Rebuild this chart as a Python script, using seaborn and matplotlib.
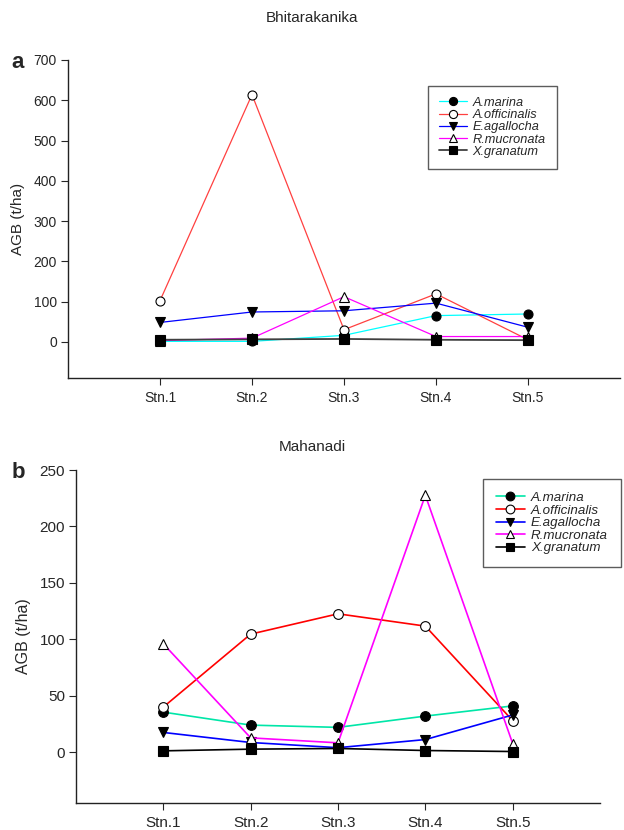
import numpy as np
import pandas as pd
import matplotlib
matplotlib.use("Agg")
import matplotlib.pyplot as plt
import seaborn as sns

stations = ["Stn.1", "Stn.2", "Stn.3", "Stn.4", "Stn.5"]
species = ["A.marina", "A.officinalis", "E.agallocha", "R.mucronata", "X.granatum"]

# Bhitarakanika
bh_amarina = [1, 1, 16, 65, 69]
bh_aoffic = [102, 614, 30, 119, 5]
bh_eagall = [48, 74, 77, 96, 36]
bh_rmucro = [3, 9, 112, 13, 13]
bh_xgran = [5, 6, 7, 5, 4]

# Mahanadi
mh_amarina = [35.5, 24, 22, 32, 41]
mh_aoffic = [40, 104.6, 122.6, 111.7, 28]
mh_eagall = [17.5, 8.6, 4, 11.2, 33]
mh_rmucro = [96, 12.7, 8.3, 227.6, 7.7]
mh_xgran = [1.2, 2.7, 3.3, 1.5, 0.6]

sns.set_style("ticks")
plt.rcParams['font.family'] = ['Liberation Sans', 'DejaVu Sans']

markers = ['o', 'o', 'v', '^', 's']
faces = ['black', 'white', 'black', 'white', 'black']
colors_a = ['#00FFFF', '#FF4040', '#0000FF', '#FF00FF', '#404040']
colors_b = ['#00E6A8', '#FF0000', '#0000FF', '#FF00FF', '#000000']
lws_a = [0.9, 0.9, 0.9, 0.9, 1.3]
lws_b = [1.2, 1.2, 1.2, 1.2, 1.2]

fig = plt.figure(figsize=(6.24, 8.30), dpi=100)
ax_a = fig.add_axes([68/624, 1-378/830, (620-68)/624, (378-60)/830])
ax_b = fig.add_axes([76/624, 1-803/830, (600-76)/624, (803-470)/830])

def draw(ax, series, colors, lws, ylim, yticks, ms, tick_fs, lab_fs, xpad,
         leg_box, leg_fs, hl, bp):
    x = np.arange(1, 6)
    for name, vals, m, fc, c, lw in zip(species, series, markers, faces, colors, lws):
        df = pd.DataFrame({"x": x, "y": vals})
        sns.lineplot(data=df, x="x", y="y", ax=ax, color=c, lw=lw,
                     marker=m, markersize=ms, markerfacecolor=fc,
                     markeredgecolor='black', markeredgewidth=0.8,
                     label=name, legend=False)
    ax.set_xlim(0, 6)
    ax.set_ylim(*ylim)
    ax.set_xticks(x)
    ax.set_xticklabels(stations, fontsize=tick_fs)
    ax.set_yticks(yticks)
    ax.tick_params(axis='y', labelsize=tick_fs, length=5, width=0.8, pad=3)
    ax.tick_params(axis='x', length=5, width=0.8, pad=xpad)
    ax.set_xlabel("")
    ax.set_ylabel("AGB (t/ha)", fontsize=lab_fs, labelpad=6)
    for s in ['top', 'right']:
        ax.spines[s].set_visible(False)
    for s in ['left', 'bottom']:
        ax.spines[s].set_linewidth(1.0)
        ax.spines[s].set_color('#222222')
    handles = list(ax.get_lines())[:5]
    leg = ax.legend(handles=handles, labels=species, loc='upper left',
                    bbox_to_anchor=leg_box,
                    bbox_transform=fig.transFigure, borderaxespad=0,
                    frameon=True, fancybox=False, markerscale=0.9,
                    handlelength=hl, handletextpad=0.45, labelspacing=0.02,
                    borderpad=bp, prop={'style': 'italic', 'size': leg_fs})
    leg.get_frame().set_edgecolor('#333333')
    leg.get_frame().set_linewidth(1.0)

draw(ax_a, [bh_amarina, bh_aoffic, bh_eagall, bh_rmucro, bh_xgran], colors_a, lws_a,
     (-90, 700), [0, 100, 200, 300, 400, 500, 600, 700], 6.5, 10, 11, 4,
     (428/624, 1-86/830), 9.2, 2.2, 0.85)
draw(ax_b, [mh_amarina, mh_aoffic, mh_eagall, mh_rmucro, mh_xgran], colors_b, lws_b,
     (-45, 250), [0, 50, 100, 150, 200, 250], 7, 11, 11.5, 4,
     (483/624, 1-479/830), 9.6, 2.2, 0.95)

fig.text(312/624, 1-18/830, "Bhitarakanika", ha='center', va='center', fontsize=11)
fig.text(312/624, 1-447/830, "Mahanadi", ha='center', va='center', fontsize=11)
fig.text(18/624, 1-62/830, "a", ha='center', va='center', fontsize=16, fontweight='bold')
fig.text(18/624, 1-472/830, "b", ha='center', va='center', fontsize=16, fontweight='bold')

fig.savefig("out.png", dpi=100)
